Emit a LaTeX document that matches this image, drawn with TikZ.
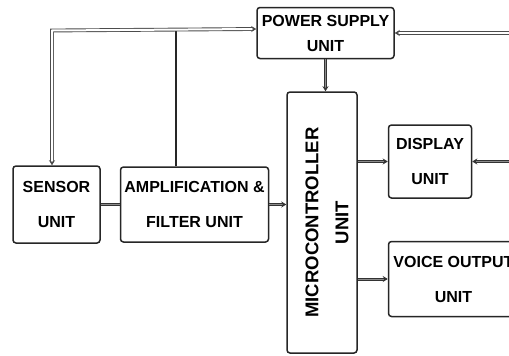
\documentclass[tikz,border=0pt]{standalone}
\usepackage{fontspec}
\setmainfont{Liberation Sans}
\usetikzlibrary{positioning,arrows.meta,calc}

\begin{document}
\begin{tikzpicture}[
  >={Stealth[length=5pt,width=6pt]},
  unit/.style={draw=black!85, line width=1.5pt, rounded corners=3pt, align=center,
               inner sep=1pt, fill=white, font=\bfseries\fontsize{16}{35}\selectfont},
  wire/.style={draw=black!80, line width=1pt, double=black!45, double distance=1pt},
  pwire/.style={draw=black!70, line width=0.9pt, double=white, double distance=2pt},
  feed/.style={draw=black!85, line width=2pt},
]
\useasboundingbox (0,0) rectangle (509pt,-356pt);

%% ---------- input chain ----------
\node[unit, minimum width=87pt, minimum height=77pt] (sensor) at (56.5pt,-204.5pt) {SENSOR\\ UNIT};

\node[unit, right=19pt of sensor, minimum width=148pt, minimum height=75pt,
      font=\bfseries\fontsize{16}{35}\selectfont] (amp) {AMPLIFICATION \&\\ FILTER UNIT};

%% ---------- controller and supply ----------
\node[unit, minimum width=70pt, minimum height=261pt] (mcu) at (322pt,-222.5pt) {};
\node[rotate=90, align=center, font=\bfseries\fontsize{18.5}{30}\selectfont] (mcutxt)
      at ([xshift=5pt]mcu.center) {MICROCONTROLLER\\ UNIT};

\node[unit, above=32pt of mcu, xshift=3.5pt, minimum width=137pt, minimum height=51pt,
      font=\bfseries\fontsize{16}{25}\selectfont] (psu) {POWER SUPPLY\\ UNIT};

%% ---------- outputs ----------
\node[unit, anchor=north west, minimum width=83pt, minimum height=73pt] (disp)
      at ($(mcu.north east)+(30pt,-33pt)$) {DISPLAY\\ UNIT};
\node[unit, below=42pt of disp.south west, anchor=north west, minimum width=130pt,
      minimum height=75pt] (voice) {VOICE OUTPUT\\ UNIT};

%% ---------- connectors ----------
\coordinate (rim) at (512pt,0);
\coordinate (bus) at (52pt,-30.5pt);

\draw[feed] ([xshift=-19pt]amp.north) -- ([xshift=-19pt]amp.north |- bus);
\draw[pwire, <->] ([xshift=-4.5pt]sensor.north) -- ([xshift=-4.5pt]sensor.north |- bus)
      -- ([yshift=4pt]psu.west);
\draw[pwire, ->] (rim |- psu.east) -- (psu.east);
\draw[wire, ->] (psu.south) -- (psu.south |- mcu.north);

\draw[wire] (sensor.east) -- (amp.west);
\draw[wire, ->] (amp.east) -- (amp.east -| mcu.west);

\draw[wire, ->] (mcu.east |- disp.west) -- (disp.west);
\draw[wire, ->] (rim |- disp.east) -- (disp.east);
\draw[wire, ->] (mcu.east |- voice.west) -- (voice.west);

\end{tikzpicture}
\end{document}
